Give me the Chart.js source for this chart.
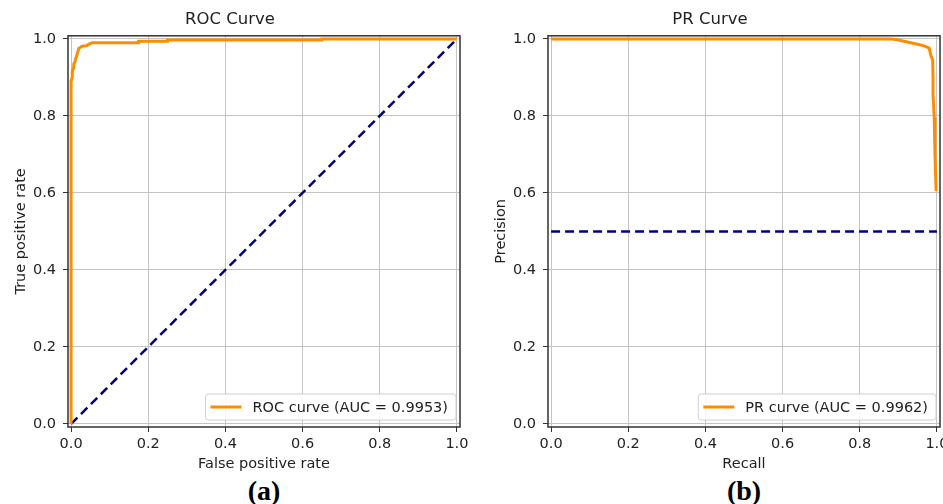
<!DOCTYPE html>
<html>
<head>
<meta charset="utf-8">
<script src="https://cdn.jsdelivr.net/npm/chart.js@4.4.1/dist/chart.umd.min.js"></script>
<style>
  html, body { margin: 0; padding: 0; background: #fff; overflow: hidden; }
  #wrap { position: relative; width: 943px; height: 504px; }
  .box { position: absolute; top: 0; height: 475px; }
  .cap { position: absolute; top: 475px; width: 80px; text-align: center;
         font: bold 28px "Liberation Serif", "DejaVu Serif", serif; color: #000; }
</style>
</head>
<body>
<div id="wrap">
  <div class="box" style="left:0; width:470px;"><canvas id="rocChart"></canvas></div>
  <div class="box" style="left:480px; width:463px;"><canvas id="prChart"></canvas></div>
  <div class="cap" style="left:224px;">(a)</div>
  <div class="cap" style="left:704px;">(b)</div>
</div>
<script>
// tick values shared by both plots
const tickVals = [0, 0.2, 0.4, 0.6, 0.8, 1.0];

// ROC curve (false positive rate / true positive rate)
const rocFpr = [0, 0, 0.003, 0.003, 0.006, 0.007, 0.010, 0.012, 0.015, 0.017, 0.020, 0.024, 0.028, 0.040, 0.045, 0.055, 0.175, 0.175, 0.250, 0.250, 0.650, 0.650, 1.0];
const rocTpr = [0, 0.89, 0.90, 0.915, 0.925, 0.935, 0.940, 0.950, 0.957, 0.965, 0.975, 0.978, 0.981, 0.982, 0.986, 0.990, 0.990, 0.994, 0.994, 0.997, 0.997, 1.0, 1.0];
const rocChance = [0, 1];

// PR curve (recall / precision)
const prRecall = [0, 0.880, 0.900, 0.915, 0.932, 0.950, 0.967, 0.980, 0.984, 0.989, 0.990, 0.990, 0.993, 0.995, 0.998];
const prPrecision = [1.0, 1.0, 0.997, 0.994, 0.990, 0.986, 0.982, 0.976, 0.958, 0.945, 0.900, 0.855, 0.796, 0.70, 0.605];
const prBaselineX = [0, 1];
const prBaselineY = [0.5, 0.5];

const rocLabel = 'ROC curve (AUC = 0.9953)';
const prLabel = 'PR curve (AUC = 0.9962)';

const FONT = '"DejaVu Sans", sans-serif';
const ORANGE = '#ff8c00';
const NAVY = '#000080';

function toPoints(xs, ys) {
    return xs.map((x, i) => ({ x: x, y: ys[i] }));
}

// frame around the plot area plus a matplotlib-like legend in the lower right
const framePlugin = {
    id: 'frame',
    afterDatasetsDraw(chart) {
        const ctx = chart.ctx;
        const a = chart.chartArea;
        ctx.save();
        ctx.strokeStyle = '#333';
        ctx.lineWidth = 1.5;
        ctx.strokeRect(a.left, a.top, a.right - a.left, a.bottom - a.top);

        // legend
        const ds = chart.data.datasets[0];
        ctx.font = '14.5px ' + FONT;
        const tw = ctx.measureText(ds.label).width;
        const w = 5 + 31 + 11 + tw + 8;
        const h = 26;
        const x = a.right - 4 - w;
        const y = a.bottom - 7 - h;
        ctx.beginPath();
        ctx.roundRect(x, y, w, h, 3);
        ctx.fillStyle = 'rgba(255,255,255,0.85)';
        ctx.fill();
        ctx.strokeStyle = '#d0d0d0';
        ctx.lineWidth = 1;
        ctx.stroke();
        ctx.beginPath();
        ctx.moveTo(x + 5, y + h / 2);
        ctx.lineTo(x + 36, y + h / 2);
        ctx.strokeStyle = ds.borderColor;
        ctx.lineWidth = 3;
        ctx.stroke();
        ctx.fillStyle = '#222';
        ctx.textBaseline = 'middle';
        ctx.fillText(ds.label, x + 47, y + h / 2 + 1);
        ctx.restore();
    }
};

function makeChart(canvasId, title, xTitle, yTitle, curve, baseline, label, padRight) {
    const fixTicks = function (scale) {
        scale.ticks = tickVals.map(v => ({ value: v }));
    };
    const config = {
        type: 'line',
        data: {
            datasets: [{
                label: label,
                data: curve,
                borderColor: ORANGE,
                backgroundColor: ORANGE,
                borderWidth: 3,
                pointRadius: 0,
                tension: 0
            },
            {
                label: 'chance',
                data: baseline,
                borderColor: NAVY,
                backgroundColor: NAVY,
                borderWidth: 2.5,
                borderDash: [9, 5],
                pointRadius: 0,
                tension: 0
            }]
        },
        options: {
            responsive: false,
            animation: false,
            layout: { padding: { left: 0, right: padRight, top: 0, bottom: 0 } },
            plugins: {
                legend: { display: false },
                tooltip: { enabled: false },
                title: {
                    display: true,
                    text: title,
                    color: '#222',
                    font: { family: FONT, size: 16.5, weight: 'normal', lineHeight: 1.2 },
                    padding: { top: 10, bottom: 6 }
                }
            },
            scales: {
                x: {
                    type: 'linear',
                    min: -0.008,
                    max: 1.008,
                    afterBuildTicks: fixTicks,
                    afterFit: function (scale) {
                        scale.height = 48;
                        scale.paddingLeft = 0;
                        scale.paddingRight = 0;
                    },
                    border: { display: false },
                    grid: { color: '#c4c4c4', lineWidth: 1, drawTicks: true, tickLength: 5, tickColor: '#333', tickWidth: 1 },
                    ticks: {
                        padding: 4,
                        color: '#222',
                        font: { family: FONT, size: 14.5 },
                        maxRotation: 0,
                        callback: v => v.toFixed(1)
                    },
                    title: {
                        display: true,
                        text: xTitle,
                        color: '#222',
                        font: { family: FONT, size: 14.5, lineHeight: 1.2 },
                        padding: { top: 0, bottom: 2 }
                    }
                },
                y: {
                    min: -0.008,
                    max: 1.008,
                    afterBuildTicks: fixTicks,
                    afterFit: function (scale) {
                        scale.width = 68;
                        scale.paddingTop = 0;
                        scale.paddingBottom = 0;
                    },
                    border: { display: false },
                    grid: { color: '#c4c4c4', lineWidth: 1, drawTicks: true, tickLength: 5, tickColor: '#333', tickWidth: 1 },
                    ticks: {
                        padding: 7,
                        color: '#222',
                        font: { family: FONT, size: 14.5 },
                        callback: v => v.toFixed(1)
                    },
                    title: {
                        display: true,
                        text: yTitle,
                        color: '#222',
                        font: { family: FONT, size: 14.5, lineHeight: 1.2 },
                        padding: { top: 13, bottom: 0 }
                    }
                }
            }
        },
        plugins: [framePlugin]
    };
    const el = document.getElementById(canvasId);
    el.width = el.parentNode.clientWidth;
    el.height = 475;
    return new Chart(el, config);
}

const rocChart = makeChart('rocChart', 'ROC Curve', 'False positive rate', 'True positive rate',
    toPoints(rocFpr, rocTpr), toPoints(rocChance, rocChance), rocLabel, 10);

const prChart = makeChart('prChart', 'PR Curve', 'Recall', 'Precision',
    toPoints(prRecall, prPrecision), toPoints(prBaselineX, prBaselineY), prLabel, 3);
</script>
</body>
</html>
